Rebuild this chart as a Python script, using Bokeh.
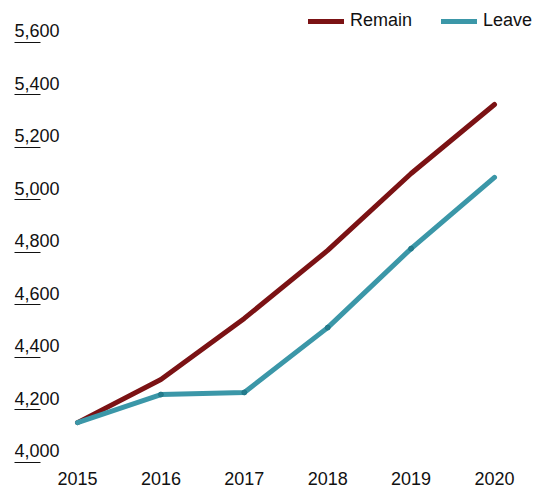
from bokeh.plotting import figure
from bokeh.models import Range1d, FixedTicker, Legend, LegendItem
from bokeh.embed import file_html
from bokeh.resources import INLINE
from bokeh.core.properties import value

years = [2015, 2016, 2017, 2018, 2019, 2020]
remain = [4150, 4314, 4547, 4806, 5099, 5362]
leave = [4150, 4257, 4265, 4512, 4813, 5084]
y_ticks = [4000, 4200, 4400, 4600, 4800, 5000, 5200, 5400, 5600]
y_tick_labels = ["4,000", "4,200", "4,400", "4,600", "4,800", "5,000", "5,200", "5,400", "5,600"]
x_tick_labels = ["2015", "2016", "2017", "2018", "2019", "2020"]

FONT = "Liberation Sans"
REMAIN_COLOR = "#7b1214"
LEAVE_COLOR = "#3b97a8"

x_start, x_end = 2014.2446, 2020.5755
y_start, y_end = 3902.9, 5758.1

p = figure(width=548, height=487, output_backend="svg", toolbar_location=None,
           x_range=Range1d(x_start, x_end), y_range=Range1d(y_start, y_end),
           min_border_left=14, min_border_right=6, min_border_top=0, min_border_bottom=0)
p.outline_line_color = None
p.xgrid.visible = False
p.ygrid.visible = False
p.xaxis.visible = False
p.background_fill_color = "white"
p.border_fill_color = "white"

# y axis: only short inward ticks used as underlines
p.yaxis.ticker = FixedTicker(ticks=y_ticks)
p.yaxis.major_label_overrides = {t: "" for t in y_ticks}
p.yaxis.axis_line_color = None
p.yaxis.minor_tick_line_color = None
p.yaxis.major_tick_in = 26
p.yaxis.major_tick_out = 0
p.yaxis.major_tick_line_color = "#111111"
p.yaxis.major_tick_line_width = 1
p.yaxis.major_label_standoff = 0

# y labels above the underlines
p.text(x=[x_start] * len(y_ticks), y=y_ticks, text=y_tick_labels,
       text_font=value(FONT), text_font_size="18px", text_color="#111111",
       text_align="left", text_baseline="bottom", y_offset=-5)

# x labels at bottom
p.text(x=years, y=[y_start] * len(years), text=x_tick_labels,
       text_font=value(FONT), text_font_size="18px", text_color="#111111",
       text_align="center", text_baseline="bottom", y_offset=-3)

r1 = p.line(years, remain, line_color=REMAIN_COLOR, line_width=5,
            line_cap="round", line_join="round")
r2 = p.line(years, leave, line_color=LEAVE_COLOR, line_width=5,
            line_cap="round", line_join="round")
p.scatter(years[1:-1], leave[1:-1], size=5, color="#1f7586", alpha=0.8)

legend = Legend(items=[LegendItem(label="Remain", renderers=[r1]),
                       LegendItem(label="Leave", renderers=[r2])],
                location="top_right", orientation="horizontal")
legend.margin = 10
legend.padding = 0
legend.spacing = 29
legend.glyph_width = 36
legend.glyph_height = 20
legend.label_height = 20
legend.label_standoff = 6
legend.label_text_font = FONT
legend.label_text_font_size = "18px"
legend.label_text_color = "#111111"
legend.background_fill_alpha = 0
legend.border_line_color = None
p.add_layout(legend)

open("out.html", "w").write(file_html(p, INLINE))
